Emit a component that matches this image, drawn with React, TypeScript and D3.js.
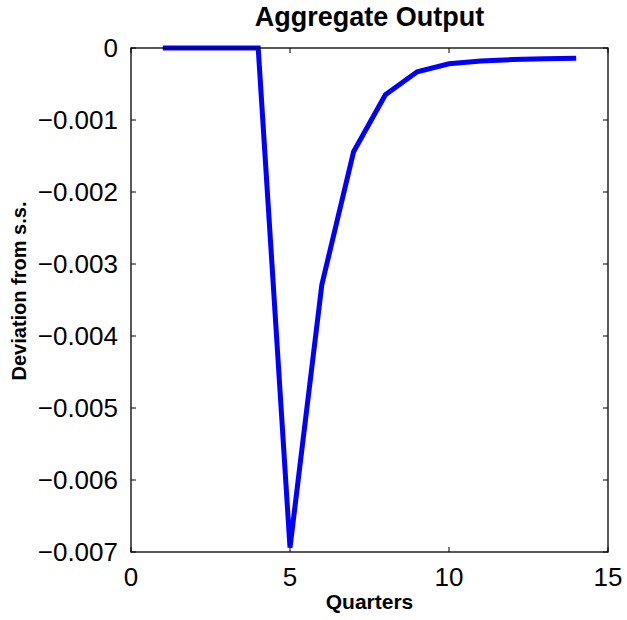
import React from 'react';
import * as d3 from 'd3';

// Impulse response of aggregate output, quarters 1..14
const quarters = [1, 2, 3, 4, 5, 6, 7, 8, 9, 10, 11, 12, 13, 14];
const deviation = [0, 0, 0, 0, -0.00694, -0.00329, -0.00144, -0.00065, -0.00033, -0.00022, -0.00018, -0.00016, -0.000150, -0.000143];
const xTicks = [0, 5, 10, 15];
const yTicks = [0, -0.001, -0.002, -0.003, -0.004, -0.005, -0.006, -0.007];

const W = 627;
const H = 620;
const margin = { top: 48, right: 19, bottom: 68, left: 131 };

const fmtY = (v: number) => (v === 0 ? '0' : '\u2212' + Math.abs(v).toFixed(3));

export default function App() {
  const innerW = W - margin.left - margin.right;
  const innerH = H - margin.top - margin.bottom;

  const x = d3.scaleLinear().domain([0, 15]).range([0, innerW]);
  const y = d3.scaleLinear().domain([-0.007, 0]).range([innerH, 0]);

  const line = d3.line<number>()
    .x((_, i) => x(quarters[i]))
    .y(d => y(d));

  const tickLen = 5;
  const font = 'Liberation Sans, Arial, sans-serif';

  return (
    <svg width={W} height={H} style={{ position: 'absolute', left: 0, top: 0, background: '#fff' }}>
      <g transform={`translate(${margin.left},${margin.top})`}>
        {/* ticks, inward on all four sides */}
        {xTicks.map(t => (
          <g key={'x' + t}>
            <line x1={x(t)} x2={x(t)} y1={innerH} y2={innerH - tickLen} stroke="#000" strokeWidth={1} />
            <line x1={x(t)} x2={x(t)} y1={0} y2={tickLen} stroke="#000" strokeWidth={1} />
            <text x={x(t)} y={innerH + 34} textAnchor="middle" fontFamily={font} fontSize={26}>{t}</text>
          </g>
        ))}
        {yTicks.map(t => (
          <g key={'y' + t}>
            <line x1={0} x2={tickLen} y1={y(t)} y2={y(t)} stroke="#000" strokeWidth={1} />
            <line x1={innerW} x2={innerW - tickLen} y1={y(t)} y2={y(t)} stroke="#000" strokeWidth={1} />
            <text x={-13} y={y(t)} dy="0.36em" textAnchor="end" fontFamily={font} fontSize={26}>{fmtY(t)}</text>
          </g>
        ))}

        <path d={line(deviation) ?? ''} fill="none" stroke="#0000ff" strokeWidth={5} strokeLinejoin="miter" />

        <rect x={0} y={0} width={innerW} height={innerH} fill="none" stroke="#000" strokeWidth={1.3} />

        <text x={innerW / 2} y={-22} textAnchor="middle" fontFamily={font} fontSize={27} fontWeight="bold">Aggregate Output</text>
        <text x={innerW / 2} y={innerH + 57} textAnchor="middle" fontFamily={font} fontSize={21} fontWeight="bold">Quarters</text>
        <text transform={`translate(${-105},${243}) rotate(-90)`} textAnchor="middle" fontFamily={font} fontSize={20} fontWeight="bold">Deviation from s.s.</text>
      </g>
    </svg>
  );
}
